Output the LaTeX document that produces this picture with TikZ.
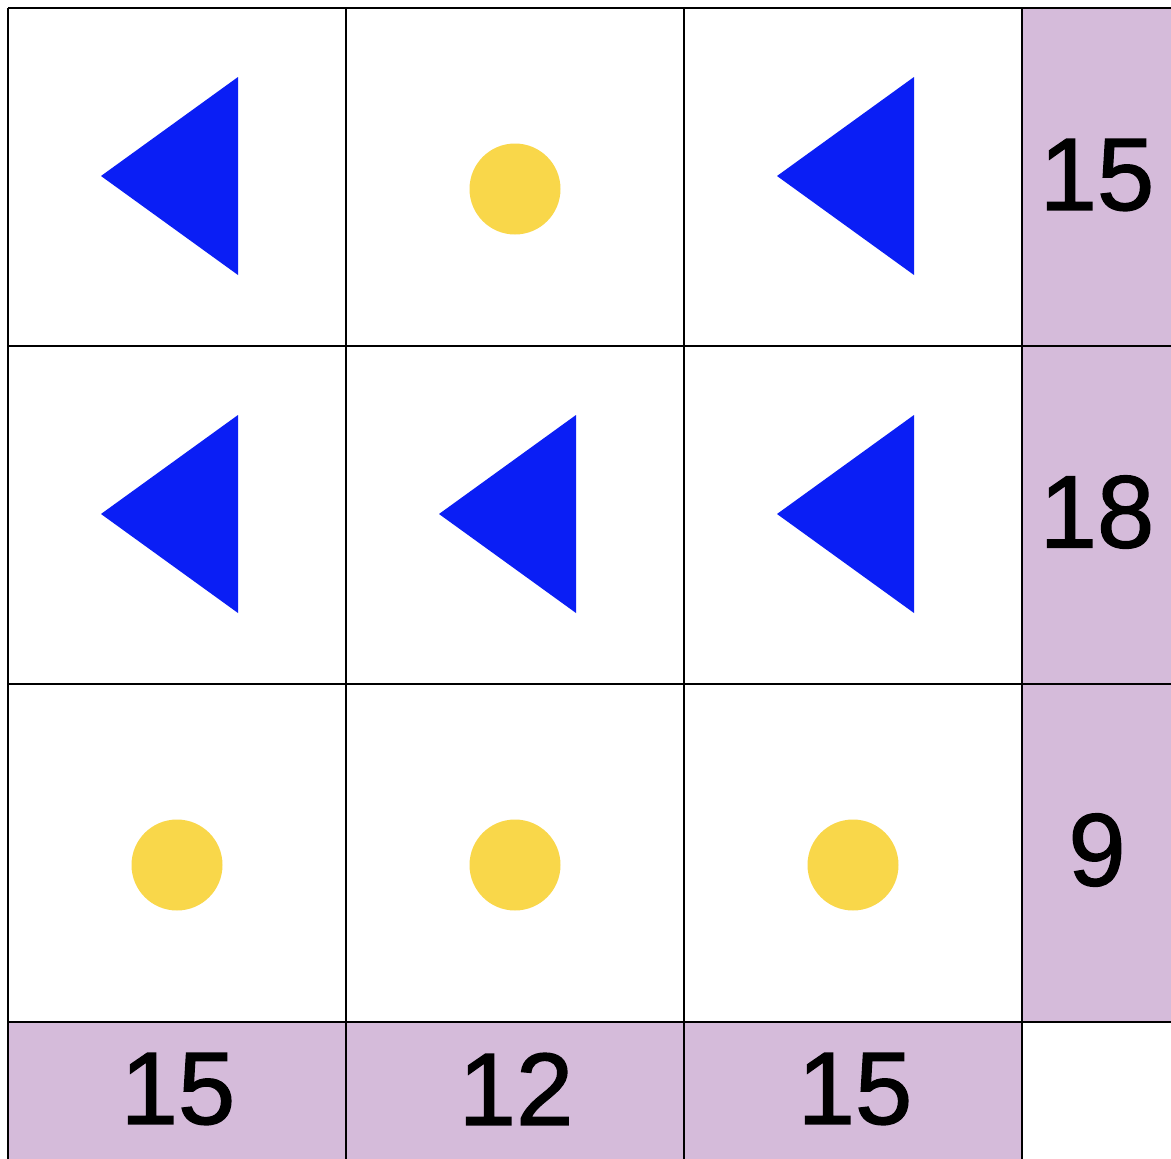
\documentclass[tikz,border=0pt]{standalone}
\usepackage{fontspec}
\setmainfont{Liberation Sans}
\newfontfamily\numfont{Liberation Sans}[BoldFont=Liberation Sans, BoldFeatures={FakeBold=1.3}]
\usetikzlibrary{calc}
\definecolor{tri}{HTML}{0A1EF5}
\definecolor{dot}{HTML}{F9D74A}
\definecolor{sumbg}{HTML}{D5BBDA}
\tikzset{
  gridline/.style={line width=2.6pt, black},
  sumtxt/.style={font=\numfont\bfseries\fontsize{103}{103}\selectfont, text=black, inner sep=0pt},
}
\newcommand{\lefttri}[1]{\fill[tri] ($(#1)+(-76,-1)$) -- ($(#1)+(61,-100)$) -- ($(#1)+(61,98)$) -- cycle;}
\newcommand{\yeldot}[1]{\fill[dot] ($(#1)+(0,12)$) circle[radius=45.5];}
\begin{document}
\begin{tikzpicture}[x=1pt,y=-1pt]
\useasboundingbox (0,0) rectangle (1171,1159);
\fill[white] (0,0) rectangle (1171,1159);
% purple sum cells
\fill[sumbg] (1022,8) rectangle (1171,1022);
\fill[sumbg] (8,1022) rectangle (1022,1159);
% cell centres
\foreach \r/\y in {1/177,2/515,3/853}{
  \foreach \c/\x in {1/177,2/515,3/853}{
    \coordinate (c\r\c) at (\x,\y);
  }
}
% symbols
\lefttri{c11}
\yeldot{c12}
\lefttri{c13}
\lefttri{c21}
\lefttri{c22}
\lefttri{c23}
\yeldot{c31}
\yeldot{c32}
\yeldot{c33}
% sums
\node[sumtxt] (r1) at (1097,175) {15};
\node[sumtxt] (r2) at (1097,512) {18};
\node[sumtxt] (r3) at (1097,850) {9};
\node[sumtxt] (b1) at (178,1089) {15};
\node[sumtxt] (b2) at (516,1089) {12};
\node[sumtxt] (b3) at (855,1089) {15};
% grid lines
\foreach \x in {8,346,684,1022}{ \draw[gridline] (\x,8) -- (\x,1159); }
\foreach \y in {8,346,684,1022}{ \draw[gridline] (8,\y) -- (1171,\y); }
\end{tikzpicture}
\end{document}
